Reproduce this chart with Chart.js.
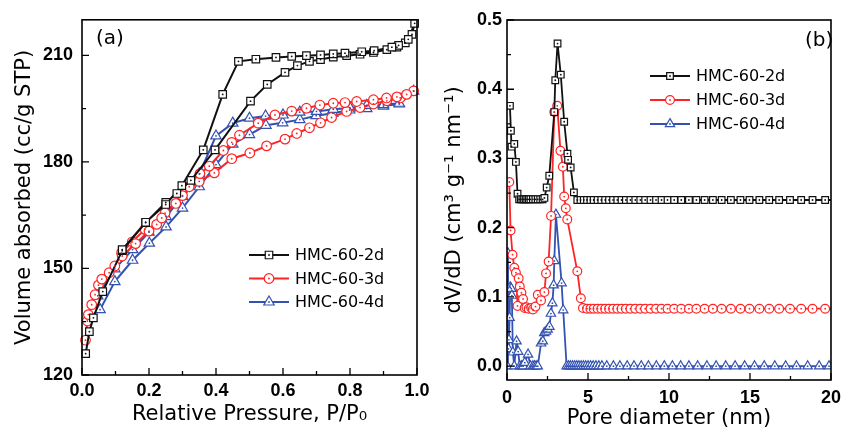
<!DOCTYPE html>
<html>
<head>
<meta charset="utf-8">
<script src="https://cdn.jsdelivr.net/npm/chart.js"></script>
<style>
html,body{margin:0;padding:0;background:#fff;}
#wrap{position:relative;width:848px;height:433px;}
canvas{position:absolute;left:0;top:0;}
</style>
</head>
<body>
<div id="wrap">
<canvas id="ca" width="848" height="433"></canvas>
<canvas id="cb" width="848" height="433"></canvas>
</div>
<script>
// ---------- Panel (a): N2 isotherms (adsorption then desorption) ----------
const seriesNames = ['HMC-60-2d', 'HMC-60-3d', 'HMC-60-4d'];

const p2d = [0.011,0.022,0.034,0.062,0.12,0.19,0.25,0.283,0.325,0.397,0.503,0.553,0.606,0.643,0.679,0.712,0.75,0.79,0.83,0.87,0.91,0.94,0.965,0.985,0.993,
             0.974,0.945,0.925,0.872,0.835,0.785,0.75,0.712,0.67,0.626,0.579,0.519,0.467,0.42,0.362,0.298,0.25,0.19,0.12];
const v2d = [126.0,132.2,136.1,143.5,155.0,162.9,168.6,171.1,174.8,183.4,197.1,201.8,205.2,207.1,208.3,208.8,209.5,209.9,210.3,210.8,211.6,212.3,213.5,215.9,219.0,
             214.5,212.8,212.3,211.3,211.0,210.6,210.4,210.1,209.9,209.7,209.4,208.9,208.3,199.0,183.4,173.3,168.0,163.0,155.3];

const p3d = [0.0104,0.016,0.019,0.029,0.039,0.049,0.059,0.081,0.098,0.118,0.15,0.188,0.223,0.248,0.30,0.35,0.395,0.447,0.501,0.551,0.606,0.641,0.679,0.712,0.745,0.79,0.83,0.87,0.91,0.95,0.99,
             0.969,0.94,0.909,0.87,0.82,0.785,0.75,0.71,0.67,0.626,0.576,0.526,0.47,0.447,0.422,0.38,0.352,0.32,0.28,0.238,0.2,0.16,0.12];
const v3d = [129.8,135.2,137.0,139.8,142.6,145.3,147.0,148.8,150.7,154.4,157.5,161.0,162.4,165.6,170.5,174.5,176.9,180.9,182.5,184.5,186.4,188.0,189.6,191.0,192.5,194.2,195.3,196.3,197.2,198.0,200.0,
             199.0,198.3,198.0,197.5,197.0,196.7,196.5,196.0,195.1,194.3,193.2,190.9,187.5,185.5,183.2,178.8,176.7,173.0,168.3,164.2,160.5,157.0,153.5];

const p4d = [0.054,0.098,0.151,0.201,0.251,0.30,0.35,0.40,0.45,0.50,0.549,0.599,0.65,0.699,0.749,0.799,0.85,0.90,0.947,0.99,
             0.947,0.90,0.85,0.80,0.75,0.70,0.65,0.60,0.548,0.50,0.45,0.40,0.35,0.30,0.251,0.20,0.151,0.098,0.047];
const v4d = [138.4,146.3,152.3,157.1,161.7,167.0,173.0,179.2,185.0,187.7,190.3,191.0,191.9,193.0,193.7,194.6,195.0,195.7,196.3,199.9,
             196.5,196.1,195.9,195.2,194.8,194.2,194.0,193.2,192.9,192.3,190.9,187.3,176.6,170.3,164.6,160.2,155.3,149.9,142.3];

const xTicksA = [0, 0.2, 0.4, 0.6, 0.8, 1.0];
const xTickLabelsA = ['0.0', '0.2', '0.4', '0.6', '0.8', '1.0'];
const xMinorA = [0.1, 0.3, 0.5, 0.7, 0.9];
const yTicksA = [120, 150, 180, 210];
const yTickLabelsA = ['120', '150', '180', '210'];
const yMinorA = [135, 165, 195];

// ---------- Panel (b): pore size distribution ----------
const d2d = [0.18,0.24,0.28,0.45,0.55,0.65,0.75,0.85,0.95,1.05,1.15,1.25,1.35,1.45,1.6,1.75,1.9,2.05,2.2,2.31,2.45,2.61,2.92,2.98,3.12,3.32,3.53,3.73,3.77,3.93,4.13,
             4.34,4.54,4.74,4.94,5.15,5.35,5.59,5.82,6.06,6.3,6.55,6.81,7.07,7.34,7.62,7.92,8.23,8.53,8.86,9.2,9.54,9.91,10.32,10.76,11.23,11.69,12.2,12.71,13.25,13.82,14.41,14.97,15.58,16.19,16.8,17.47,18.16,18.86,19.64,20.5];
const dv2d = [0.376,0.340,0.317,0.321,0.295,0.249,0.241,0.241,0.241,0.241,0.241,0.241,0.241,0.241,0.241,0.241,0.241,0.241,0.241,0.243,0.258,0.275,0.367,0.413,0.466,0.421,0.353,0.307,0.298,0.287,0.251,
             0.24,0.24,0.24,0.24,0.24,0.24,0.24,0.24,0.24,0.24,0.24,0.24,0.24,0.24,0.24,0.24,0.24,0.24,0.24,0.24,0.24,0.24,0.24,0.24,0.24,0.24,0.24,0.24,0.24,0.24,0.24,0.24,0.24,0.24,0.24,0.24,0.24,0.24,0.24,0.24];

const d3d = [0.14,0.22,0.34,0.45,0.55,0.65,0.72,0.79,0.89,0.99,1.09,1.2,1.34,1.5,1.6,1.76,1.9,2.1,2.31,2.41,2.57,2.72,2.92,3.1,3.3,3.45,3.53,3.63,3.72,4.34,4.56,4.69,
             4.94,5.15,5.35,5.59,5.82,6.06,6.3,6.55,6.81,7.07,7.34,7.62,7.92,8.23,8.53,8.86,9.2,9.54,9.91,10.32,10.76,11.23,11.69,12.2,12.71,13.25,13.82,14.41,14.97,15.58,16.19,16.8,17.47,18.16,18.86,19.64,20.5];
const dv3d = [0.266,0.196,0.161,0.142,0.135,0.087,0.127,0.115,0.106,0.097,0.084,0.085,0.083,0.084,0.082,0.086,0.103,0.095,0.107,0.134,0.151,0.217,0.367,0.376,0.311,0.288,0.245,0.228,0.212,0.137,0.098,0.084,
             0.083,0.083,0.083,0.083,0.083,0.083,0.083,0.083,0.083,0.083,0.083,0.083,0.083,0.083,0.083,0.083,0.083,0.083,0.083,0.083,0.083,0.083,0.083,0.083,0.083,0.083,0.083,0.083,0.083,0.083,0.083,0.083,0.083,0.083,0.083,0.083,0.083];

const d4d = [0.02,0.06,0.09,0.12,0.16,0.2,0.26,0.3,0.36,0.45,0.59,0.69,0.79,0.9,1.0,1.1,1.3,1.45,1.6,1.7,1.8,1.9,2.1,2.21,2.3,2.41,2.51,2.62,2.71,2.8,2.88,2.92,3.02,3.37,3.47,3.68,
             3.8,3.92,4.05,4.18,4.31,4.44,4.58,4.72,4.86,5.01,5.16,5.32,5.49,5.67,5.86,6.16,6.57,6.97,7.42,7.84,8.29,8.73,9.22,9.71,10.21,10.72,11.23,11.77,12.34,12.91,13.5,14.08,14.67,15.28,15.88,16.53,17.2,17.87,18.56,19.27,19.88];
const dv4d = [0.0,0.163,0.025,0.038,0.07,0.114,0.112,0.102,0.02,0.0,0.036,0.021,0.0,0.0,0.0,0.005,0.017,0.0,0.0,0.0,0.0,0.0,0.033,0.036,0.048,0.05,0.053,0.057,0.076,0.091,0.117,0.152,0.219,0.12,0.081,0.0,
             0.0,0.0,0.0,0.0,0.0,0.0,0.0,0.0,0.0,0.0,0.0,0.0,0.0,0.0,0.0,0.0,0.0,0.0,0.0,0.0,0.0,0.0,0.0,0.0,0.0,0.0,0.0,0.0,0.0,0.0,0.0,0.0,0.0,0.0,0.0,0.0,0.0,0.0,0.0,0.0,0.0];

const xTicksB = [0, 5, 10, 15, 20];
const xTickLabelsB = ['0', '5', '10', '15', '20'];
const xMinorB = [2.5, 7.5, 12.5, 17.5];
const yTicksB = [0, 0.1, 0.2, 0.3, 0.4, 0.5];
const yTickLabelsB = ['0.0', '0.1', '0.2', '0.3', '0.4', '0.5'];
const yMinorB = [0.05, 0.15, 0.25, 0.35, 0.45];

// ---------- styling ----------
const colors = ['#111111', '#ff2424', '#3352b0'];
const styles = ['rect', 'circle', 'triangle'];
const radiiA = [5.3, 4.8, 6.0];
const radiiB = [4.7, 4.4, 5.4];

const toXY = (xs, ys) => xs.map((x, i) => ({x: x, y: ys[i]}));

function makeDatasets(pairs, radii, lw, clip) {
  return pairs.map((pr, i) => ({
    label: seriesNames[i],
    data: toXY(pr[0], pr[1]),
    showLine: true,
    borderColor: colors[i],
    backgroundColor: '#ffffff',
    borderWidth: lw,
    pointStyle: styles[i],
    pointRadius: radii[i],
    pointBorderWidth: 1.2,
    pointBorderColor: colors[i],
    pointBackgroundColor: '#ffffff',
    tension: 0,
    clip: clip
  }));
}

const panelPlugin = {
  id: 'panel',
  afterDatasetsDraw(chart) {
    const ctx = chart.ctx;
    const a = chart.chartArea;
    ctx.save();
    chart.data.datasets.forEach((ds, i) => {
      const meta = chart.getDatasetMeta(i);
      ctx.fillStyle = ds.borderColor;
      meta.data.forEach(p => {
        if (p.x < a.left - 1 || p.x > a.right + 1) return;
        ctx.beginPath();
        ctx.arc(p.x, p.y, 0.9, 0, Math.PI * 2);
        ctx.fill();
      });
    });
    ctx.restore();
  },
  afterDraw(chart, args, o) {
    const ctx = chart.ctx;
    const a = chart.chartArea;
    const xs = chart.scales.x, ys = chart.scales.y;
    ctx.save();
    ctx.strokeStyle = '#000';
    ctx.lineWidth = 1.6;
    ctx.strokeRect(a.left, a.top, a.right - a.left, a.bottom - a.top);
    ctx.lineWidth = 1.3;
    ctx.beginPath();
    o.xMajor.forEach(v => { const p = xs.getPixelForValue(v); ctx.moveTo(p, a.bottom); ctx.lineTo(p, a.bottom - 7); });
    o.xMinor.forEach(v => { const p = xs.getPixelForValue(v); ctx.moveTo(p, a.bottom); ctx.lineTo(p, a.bottom - 4); });
    o.yMajor.forEach(v => { const p = ys.getPixelForValue(v); ctx.moveTo(a.left, p); ctx.lineTo(a.left + 7, p); });
    o.yMinor.forEach(v => { const p = ys.getPixelForValue(v); ctx.moveTo(a.left, p); ctx.lineTo(a.left + 4, p); });
    ctx.stroke();

    ctx.fillStyle = '#000';
    ctx.font = '20px "DejaVu Sans"';
    ctx.textBaseline = 'middle';
    ctx.textAlign = 'left';
    ctx.fillText(o.label, o.labelX, o.labelY);

    chart.data.datasets.forEach((ds, i) => {
      const y = o.legY + i * o.legDy;
      ctx.strokeStyle = ds.borderColor;
      ctx.lineWidth = ds.borderWidth;
      ctx.beginPath();
      ctx.moveTo(o.legX, y);
      ctx.lineTo(o.legX + o.legLen, y);
      ctx.stroke();
      ctx.fillStyle = '#ffffff';
      ctx.strokeStyle = ds.borderColor;
      ctx.lineWidth = ds.pointBorderWidth;
      Chart.helpers.drawPoint(ctx, {pointStyle: ds.pointStyle, radius: ds.pointRadius, rotation: 0, borderWidth: ds.pointBorderWidth}, o.legX + o.legLen / 2, y);
      ctx.fillStyle = ds.borderColor;
      ctx.beginPath();
      ctx.arc(o.legX + o.legLen / 2, y, 0.9, 0, Math.PI * 2);
      ctx.fill();
      ctx.fillStyle = '#000';
      ctx.font = '16px "DejaVu Sans"';
      ctx.fillText(ds.label, o.legX + o.legLen + 6, y + 1);
    });
    ctx.restore();
  }
};

const tickFont = {family: '"Liberation Sans", Arial, sans-serif', weight: 700, size: 18};
const titleFont = {family: '"DejaVu Sans", Verdana, sans-serif', size: 21};

function makeChart(id, datasets, cfg) {
  return new Chart(document.getElementById(id), {
    type: 'scatter',
    data: {datasets: datasets},
    plugins: [panelPlugin],
    options: {
      responsive: false,
      animation: false,
      devicePixelRatio: 1,
      events: [],
      layout: {padding: cfg.padding},
      plugins: {
        legend: {display: false},
        tooltip: {enabled: false},
        panel: cfg.panel
      },
      scales: {
        x: {
          type: 'linear',
          min: cfg.xMin, max: cfg.xMax,
          grid: {display: false, drawTicks: false, tickLength: 0},
          border: {display: false},
          afterBuildTicks: s => { s.ticks = cfg.xTicks.map(v => ({value: v})); },
          afterFit: s => { s.height = cfg.xHeight; },
          ticks: {autoSkip: false, maxRotation: 0, padding: cfg.xPad, color: '#000', font: tickFont,
                  callback: (v, i) => cfg.xLabels[i]},
          title: {display: true, text: cfg.xTitle, color: '#000', font: titleFont, padding: {top: 0, bottom: cfg.xTitlePad}}
        },
        y: {
          type: 'linear',
          min: cfg.yMin, max: cfg.yMax,
          grid: {display: false, drawTicks: false, tickLength: 0},
          border: {display: false},
          afterBuildTicks: s => { s.ticks = cfg.yTicks.map(v => ({value: v})); },
          afterFit: s => { s.width = cfg.yWidth; },
          ticks: {autoSkip: false, padding: cfg.yPad, color: '#000', font: tickFont,
                  callback: (v, i) => cfg.yLabels[i]},
          title: {display: true, text: cfg.yTitle, color: '#000', font: titleFont, padding: {top: cfg.yTitlePad, bottom: 0}}
        }
      }
    }
  });
}

makeChart('ca', makeDatasets([[p2d, v2d], [p3d, v3d], [p4d, v4d]], radiiA, 2, false), {
  padding: {left: 0, top: 13, right: 431, bottom: 0},
  xMin: 0, xMax: 1, yMin: 120, yMax: 220,
  xTicks: xTicksA, xLabels: xTickLabelsA, yTicks: yTicksA, yLabels: yTickLabelsA,
  xHeight: 58, yWidth: 82, xPad: 5, yPad: 9,
  xTitle: 'Relative Pressure, P/P\u2080', yTitle: 'Volume absorbed (cc/g STP)',
  xTitlePad: 6, yTitlePad: 12.4,
  panel: {xMajor: xTicksA, xMinor: xMinorA, yMajor: yTicksA, yMinor: yMinorA,
          label: '(a)', labelX: 96, labelY: 39,
          legX: 249, legLen: 40, legY: 255, legDy: 23.5}
});

makeChart('cb', makeDatasets([[d2d, dv2d], [d3d, dv3d], [d4d, dv4d]], radiiB, 1.8, 0), {
  padding: {left: 430, top: 20, right: 12, bottom: 0},
  xMin: 0, xMax: 20, yMin: -0.02, yMax: 0.5,
  xTicks: xTicksB, xLabels: xTickLabelsB, yTicks: yTicksB, yLabels: yTickLabelsB,
  xHeight: 53, yWidth: 77, xPad: 7, yPad: 5,
  xTitle: 'Pore diameter (nm)', yTitle: 'dV/dD (cm\u00b3 g\u207b\u00b9 nm\u207b\u00b9)',
  xTitlePad: 2, yTitlePad: 12.4,
  panel: {xMajor: xTicksB, xMinor: xMinorB, yMajor: yTicksB, yMinor: yMinorB,
          label: '(b)', labelX: 805, labelY: 41,
          legX: 650, legLen: 40, legY: 76, legDy: 24}
});
</script>
</body>
</html>
